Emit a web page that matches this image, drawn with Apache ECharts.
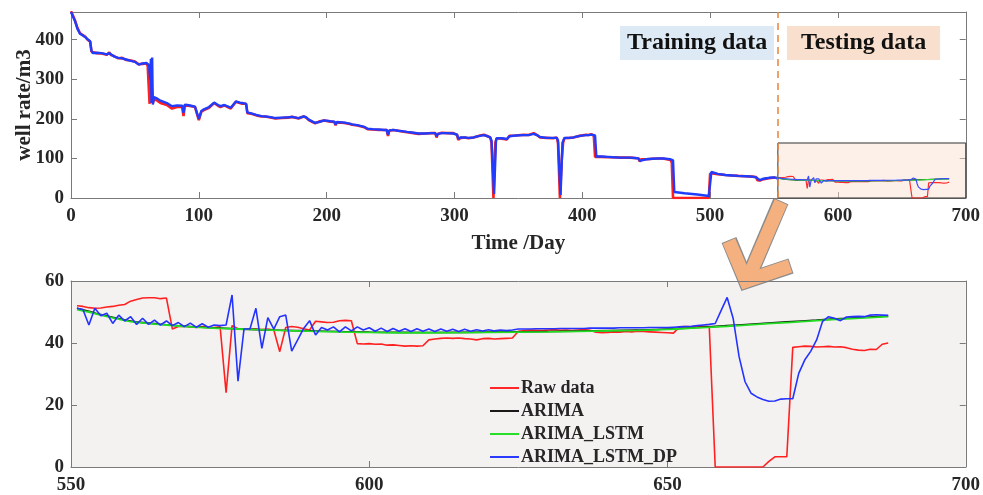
<!DOCTYPE html>
<html>
<head>
<meta charset="utf-8">
<script src="https://cdn.jsdelivr.net/npm/echarts@6/dist/echarts.min.js"></script>
<style>
  html, body { margin: 0; padding: 0; background: #fff; }
  #chart { width: 983px; height: 495px; }
</style>
</head>
<body>
<div id="chart"></div>
<script>
    // training period, raw well rate [day, m3]
    const trainRaw = [[0,472],[1,465],[3,450],[5,430],[7,417],[9,412],[11,408],[13,400],[15,395],[16,370],[17,365],[20,366],[24,365],[28,362],[30,368],[31,362],[34,358],[37,353],[40,354],[43,349],[46,348],[50,345],[53,338],[56,339],[59,340],[60,334],[61,330],[61.5,238],[62,330],[63,335],[64,240],[65,250],[67,247],[70,240],[75,235],[79,226],[83,230],[87,230],[88,207],[89,232],[91,234],[94,232],[97,230],[100,197],[102,218],[104,222],[108,228],[112,240],[115,233],[117,230],[120,234],[123,229],[125,226],[129,243],[132,240],[134,238],[137,238],[138,214],[141,213],[143,211],[146,208],[149,206],[152,206],[155,204],[156,201],[160,201],[165,202],[170,203],[173,205],[178,201],[182,206],[184,203],[186,197],[189,192],[191,189],[194,193],[198,196],[203,193],[206,192],[207,184],[208,191],[212,190],[215,189],[218,187],[220,185],[224,183],[228,180],[230,178],[232,174],[236,173],[241,172],[245,172],[247,172],[248,157],[249,170],[252,172],[256,170],[259,168],[263,166],[268,164],[272,162],[277,163],[282,164],[285,164],[286,153],[287,162],[290,165],[294,164],[299,164],[302,160],[303,147],[305,152],[308,153],[311,151],[315,153],[317,155],[320,158],[323,160],[326,156],[328,153],[329,140],[330.5,0],[332,140],[333,151],[337,150],[341,148],[343,157],[348,158],[354,160],[358,159],[362,164],[365,158],[367,153],[372,152],[377,151],[380,153],[381,140],[382.5,0],[384,100],[385,140],[386,151],[390,152],[393,153],[398,157],[403,160],[405,159],[407,161],[409,158],[410,104],[415,104],[420,103],[424,103],[430,102],[437,102],[441,101],[444,100],[445,92],[446,98],[450,98],[455,99],[460,100],[463,100],[469,96],[470,90],[471,0],[480,0],[490,0],[499,0],[500,62],[502,62],[506,60],[512,58],[517,57],[522,56],[528,55],[533,54],[536,53],[537,45],[539,44],[541,47],[544,49],[546,50],[549,51],[551,52]];

    // training period, fitted (ARIMA_LSTM_DP) [day, m3]
    const trainFit = [[0,470],[1,466],[3,448],[5,428],[7,415],[9,411],[11,407],[13,401],[15,396],[16,372],[17,366],[20,367],[24,366],[28,363],[30,366],[31,363],[34,357],[37,354],[40,353],[43,350],[46,347],[50,344],[53,337],[56,340],[59,341],[60,336],[61,336],[62,300],[62.5,352],[63,240],[63.5,355],[64,236],[65,255],[67,252],[70,246],[75,240],[79,232],[83,234],[87,233],[88,215],[89,236],[91,235],[94,233],[97,231],[100,200],[102,220],[104,224],[108,230],[112,241],[115,235],[117,232],[120,235],[123,231],[125,228],[129,244],[132,241],[134,240],[137,238],[138,216],[141,214],[143,212],[146,209],[149,207],[152,206],[155,205],[156,202],[160,202],[165,203],[170,204],[173,205],[178,202],[182,206],[184,204],[186,198],[189,193],[191,190],[194,192],[198,196],[203,194],[206,193],[207,186],[208,192],[212,191],[215,190],[218,188],[220,186],[224,184],[228,181],[230,179],[232,175],[236,174],[241,173],[245,172],[247,172],[248,160],[249,171],[252,172],[256,170],[259,169],[263,167],[268,165],[272,163],[277,163],[282,164],[285,164],[286,156],[287,162],[290,164],[294,164],[299,163],[302,160],[303,150],[305,153],[308,153],[311,152],[315,153],[317,155],[320,157],[323,159],[326,156],[328,153],[329,145],[331,10],[332.5,145],[333,151],[337,151],[341,149],[343,156],[348,158],[354,159],[358,159],[362,162],[365,158],[367,154],[372,152],[377,152],[380,152],[381,145],[383,8],[384.5,140],[386,152],[390,152],[393,153],[398,157],[403,159],[405,159],[407,160],[410,158],[411,105],[415,105],[420,104],[424,103],[430,102],[437,102],[441,101],[444,100],[445,94],[446,99],[450,98],[455,99],[460,100],[463,100],[469,98],[471,95],[472,15],[480,12],[490,9],[499,5],[500.5,5],[501,66],[502,64],[506,61],[512,58],[517,57],[522,56],[528,55],[533,54],[536,52],[537,47],[539,45],[541,48],[544,50],[546,51],[549,52],[552,51]];

    // testing period: one value per day starting at day 551
    const testStart = 551;
    const testRaw = [52.0,51.8,51.4,51.2,51.3,51.6,51.8,52.2,52.4,53.5,54.0,54.5,54.6,54.6,54.3,54.5,44.5,45.3,45.4,45.2,
        45.0,45.3,45.1,45.0,45.2,24.0,45.6,44.6,44.4,44.5,44.6,44.3,44.5,44.2,37.2,45.0,45.3,45.1,44.6,44.2,
        47.0,46.8,46.6,46.7,47.2,47.3,47.2,39.8,39.7,39.8,39.6,39.7,39.3,39.4,39.2,39.0,39.1,39.0,39.1,41.0,
        41.3,41.5,41.6,41.5,41.6,41.4,41.3,41.0,41.4,41.5,41.3,41.4,41.5,41.6,43.8,44.0,44.2,44.1,44.0,44.2,
        44.3,44.1,44.2,44.0,44.2,44.3,44.1,43.5,43.3,43.4,43.6,43.5,43.7,43.6,43.8,43.7,43.6,43.5,43.4,43.3,
        43.2,45.2,45.3,45.2,45.4,45.4,45.3,0,0,0,0,0,0,0,0,0,
        1.8,3.3,3.3,3.3,38.6,38.8,39.0,38.9,38.7,38.8,38.9,38.7,38.8,38.5,38.0,37.7,37.6,38.0,37.9,39.6,40.0];
    const testDP = [51.2,50.8,45.8,51.2,48.8,49.6,46.3,49.0,47.1,48.5,46.0,48.0,46.0,47.4,45.8,47.1,45.6,46.6,45.3,46.4,
        45.1,46.2,45.1,45.8,45.6,45.8,55.5,27.7,44.5,44.5,51.2,38.3,48.2,44.5,48.5,49.0,37.4,41.0,44.7,47.2,
        42.6,45.0,44.2,45.2,43.6,45.2,43.9,45.2,44.2,44.9,43.8,44.8,43.7,44.7,43.8,44.6,43.7,44.6,43.8,44.5,
        43.7,44.5,43.8,44.4,43.7,44.4,43.8,44.3,43.9,44.3,43.9,44.2,44.0,44.2,44.5,44.5,44.5,44.6,44.6,44.6,
        44.6,44.7,44.7,44.7,44.7,44.7,44.8,44.8,44.8,44.8,44.8,44.9,44.9,44.9,44.9,44.9,45.0,45.0,45.0,45.0,
        45.1,45.2,45.3,45.4,45.6,45.8,46.0,46.3,50.5,54.7,48.0,35.6,27.5,23.8,22.6,21.8,21.2,21.3,21.9,22.0,
        22.0,30.2,34.5,37.3,41.0,47.0,48.5,48.0,47.2,48.4,48.5,48.6,48.5,49.0,49.1,49.0,48.9];
    const arimaPts = [[551,51.2],[553,50.2],[555,49.2],[558,47.9],[560,47.1],[563,46.4],[566,45.9],[570,45.3],[575,44.8],[580,44.4],[585,44.1],[590,43.9],[595,43.7],[600,43.5],[610,43.4],[620,43.5],[630,43.7],[640,44.0],[645,44.2],[650,44.5],[655,45.0],[660,45.6],[665,46.2],[670,46.8],[675,47.4],[680,48.0],[687,48.7]];
    const arimaLstmPts = [[551,50.8],[553,50.0],[555,49.0],[558,47.7],[560,46.9],[563,46.3],[566,45.8],[570,45.2],[575,44.7],[580,44.4],[585,44.1],[590,43.8],[595,43.6],[600,43.4],[610,43.3],[620,43.4],[630,43.6],[640,43.9],[645,44.1],[650,44.4],[655,44.9],[660,45.4],[665,46.0],[670,46.6],[675,47.2],[680,47.8],[687,48.5]];

    const topTicks = [0, 100, 200, 300, 400];
    const legendNames = ['Raw data', 'ARIMA', 'ARIMA_LSTM', 'ARIMA_LSTM_DP'];

    let testRawPts = testRaw.map(function (v, i) { return [testStart + i, v]; });
    let testDPPts = testDP.map(function (v, i) { return [testStart + i, v]; });

    const serif = '"Liberation Serif", "Times New Roman", serif';
    let labelStyle = {fontFamily: serif, fontWeight: 'bold', fontSize: 19, color: '#262626'};

    function axisX(grid, min, max, step, pos, showLabel) {
        return {
            type: 'value', gridIndex: grid, min: min, max: max, interval: step, position: pos,
            axisLine: {show: true, onZero: false, lineStyle: {color: '#7a7a7a', width: 1}},
            axisTick: {show: true, inside: true, length: 6, lineStyle: {color: '#7a7a7a'}},
            axisLabel: Object.assign({show: showLabel, margin: 9}, labelStyle),
            splitLine: {show: false}
        };
    }
    function axisY(grid, min, max, step, pos, showLabel) {
        return {
            type: 'value', gridIndex: grid, min: min, max: max, interval: step, position: pos,
            axisLine: {show: true, onZero: false, lineStyle: {color: '#7a7a7a', width: 1}},
            axisTick: {show: true, inside: true, length: 6, lineStyle: {color: '#7a7a7a'}},
            axisLabel: Object.assign({show: showLabel, margin: 7, showMaxLabel: max % step === 0}, labelStyle),
            splitLine: {show: false}
        };
    }

    let xTop = axisX(0, 0, 700, 100, 'bottom', true);
    xTop.name = 'Time /Day';
    xTop.nameLocation = 'middle';
    xTop.nameGap = 35;
    xTop.nameMoveOverlap = false;
    xTop.nameTextStyle = {fontFamily: serif, fontWeight: 'bold', fontSize: 21, color: '#262626'};
    let yTop = axisY(0, 0, 470, 100, 'left', true);
    yTop.name = 'well rate/m3';
    yTop.nameLocation = 'middle';
    yTop.nameGap = 36;
    yTop.nameMoveOverlap = false;
    yTop.nameTextStyle = {fontFamily: serif, fontWeight: 'bold', fontSize: 21, color: '#262626'};
    yTop.axisLabel.formatter = function (v) { return topTicks.indexOf(v) >= 0 ? String(v) : ''; };

    let chart = echarts.init(document.getElementById('chart'));
    let option = {
        animation: false,
        backgroundColor: '#fff',
        grid: [
            {left: 71, top: 12, width: 896, height: 186},
            {left: 71, top: 281, width: 896, height: 186, show: true, backgroundColor: '#f4f2f1', borderWidth: 0}
        ],
        xAxis: [
            xTop,
            axisX(0, 0, 700, 100, 'top', false),
            axisX(1, 550, 700, 50, 'bottom', true),
            axisX(1, 550, 700, 50, 'top', false)
        ],
        yAxis: [
            yTop,
            axisY(0, 0, 470, 100, 'right', false),
            axisY(1, 0, 60, 20, 'left', true),
            axisY(1, 0, 60, 20, 'right', false)
        ],
        legend: {
            data: legendNames,
            orient: 'vertical',
            left: 485,
            top: 374,
            itemWidth: 29,
            itemHeight: 10,
            itemGap: 5,
            icon: 'path://M0,4 L30,4 L30,6 L0,6 Z',
            textStyle: {fontFamily: serif, fontWeight: 'bold', fontSize: 18, color: '#262626', padding: [0, 0, 0, -3]}
        },
        series: [
            {
                name: 'train raw', type: 'line', xAxisIndex: 0, yAxisIndex: 0, data: trainRaw,
                symbol: 'none', lineStyle: {color: '#ff1f1f', width: 2.6}, z: 3
            },
            {
                name: 'train fit', type: 'line', xAxisIndex: 0, yAxisIndex: 0, data: trainFit,
                symbol: 'none', lineStyle: {color: '#1f3cff', width: 2.4}, z: 4,
                markLine: {
                    silent: true, symbol: 'none', label: {show: false},
                    lineStyle: {color: '#e8843c', type: [7, 5], width: 1.5},
                    data: [{xAxis: 553}]
                }
            },
            {
                name: 'test raw', type: 'line', xAxisIndex: 0, yAxisIndex: 0, data: testRawPts,
                symbol: 'none', lineStyle: {color: '#ff2a2a', width: 1.2}, z: 3,
                markArea: {
                    silent: true,
                    itemStyle: {color: 'rgba(248,222,204,0.45)', borderColor: '#333', borderWidth: 1},
                    data: [[{xAxis: 553, yAxis: 0}, {xAxis: 700, yAxis: 139}]]
                }
            },
            {
                name: 'test arima', type: 'line', xAxisIndex: 0, yAxisIndex: 0, data: arimaPts,
                symbol: 'none', lineStyle: {color: '#111', width: 1.2}, z: 3
            },
            {
                name: 'test arima lstm', type: 'line', xAxisIndex: 0, yAxisIndex: 0, data: arimaLstmPts,
                symbol: 'none', lineStyle: {color: '#35d635', width: 1.2}, z: 3
            },
            {
                name: 'test dp', type: 'line', xAxisIndex: 0, yAxisIndex: 0, data: testDPPts,
                symbol: 'none', lineStyle: {color: '#3a4cff', width: 1.2}, z: 4
            },
            {
                name: 'Raw data', type: 'line', xAxisIndex: 2, yAxisIndex: 2, data: testRawPts,
                symbol: 'none', itemStyle: {color: '#ff2020'}, lineStyle: {color: '#ff2020', width: 1.6}
            },
            {
                name: 'ARIMA', type: 'line', xAxisIndex: 2, yAxisIndex: 2, data: arimaPts, smooth: true,
                symbol: 'none', itemStyle: {color: '#111'}, lineStyle: {color: '#111', width: 1.6}
            },
            {
                name: 'ARIMA_LSTM', type: 'line', xAxisIndex: 2, yAxisIndex: 2, data: arimaLstmPts, smooth: true,
                symbol: 'none', itemStyle: {color: '#22dd22'}, lineStyle: {color: '#22dd22', width: 1.8}
            },
            {
                name: 'ARIMA_LSTM_DP', type: 'line', xAxisIndex: 2, yAxisIndex: 2, data: testDPPts,
                symbol: 'none', itemStyle: {color: '#2433ff'}, lineStyle: {color: '#2433ff', width: 1.6}
            }
        ],
        graphic: [
            {
                type: 'text', left: 620, top: 26, z: 10,
                style: {
                    text: 'Training data', fontFamily: serif, fontWeight: 'bold', fontSize: 24, fill: '#111',
                    backgroundColor: '#dde9f4', padding: [5, 7, 5, 7], width: 140, align: 'center'
                }
            },
            {
                type: 'text', left: 787, top: 26, z: 10,
                style: {
                    text: 'Testing data', fontFamily: serif, fontWeight: 'bold', fontSize: 24, fill: '#111',
                    backgroundColor: '#f9dfcd', padding: [5, 14, 5, 14], width: 125, align: 'center'
                }
            },
            // orange callout arrow
            {
                type: 'group', z: 20,
                children: [
                    {type: 'polyline', shape: {points: [[781, 201], [750, 274]]}, style: {stroke: '#8c8c8c', lineWidth: 16, fill: null}},
                    {type: 'polyline', shape: {points: [[729, 240], [746, 281], [791, 266]]}, style: {stroke: '#8c8c8c', lineWidth: 16, fill: null, lineJoin: 'miter', miterLimit: 10}},
                    {type: 'polyline', shape: {points: [[781, 202], [750, 274]]}, style: {stroke: '#f4b07e', lineWidth: 13.5, fill: null}},
                    {type: 'polyline', shape: {points: [[729, 241], [746, 281], [790, 266]]}, style: {stroke: '#f4b07e', lineWidth: 13.5, fill: null, lineJoin: 'miter', miterLimit: 10}}
                ]
            }
        ]
    };
    chart.setOption(option);
    window.onresize = () => {
        chart.resize();
    };
</script>
</body>
</html>
